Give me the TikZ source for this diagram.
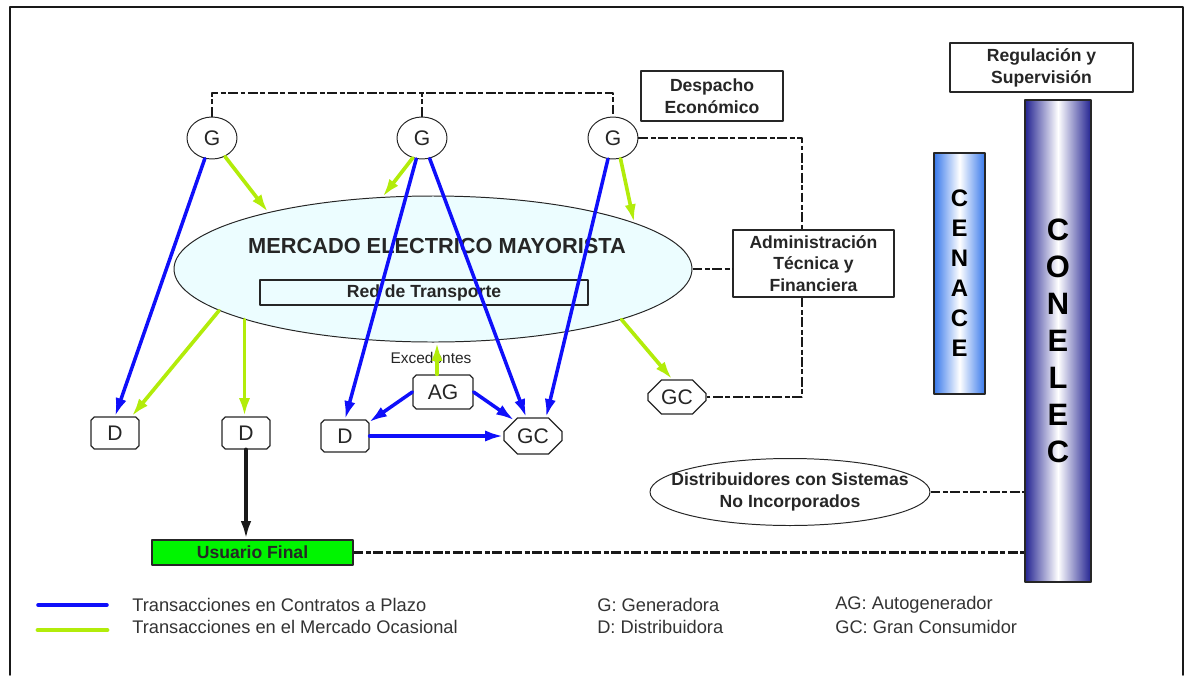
\documentclass[tikz,border=0pt]{standalone}
\usepackage{fontspec}
\setmainfont{Liberation Sans}
\usetikzlibrary{arrows.meta,shapes.geometric,shapes.misc}

\begin{document}
\begin{tikzpicture}[
    x=0.25mm, y=-0.25mm,
    line cap=round,
    line join=round,
    every node/.style={inner sep=0pt, text=black!85,
        font=\fontsize{12.5}{15.5}\selectfont\bfseries},
    caja/.style={draw=black!85, line width=0.9pt, align=center, fill=white},
    gen/.style={draw=black!85, line width=0.7pt, ellipse, fill=white,
        minimum width=12.5mm, minimum height=10.5mm,
        font=\fontsize{15}{17}\selectfont},
    agente/.style={draw=black!85, line width=0.9pt, fill=white,
        chamfered rectangle, chamfered rectangle xsep=0.4mm,
        chamfered rectangle ysep=0.4mm,
        minimum width=12mm, minimum height=8mm,
        font=\fontsize{15}{17}\selectfont},
    consumidor/.style={agente, chamfered rectangle xsep=2.2mm,
        chamfered rectangle ysep=1.5mm,
        minimum width=14.5mm, minimum height=9mm},
    barra/.style={draw=black!85, line width=0.9pt, align=center, text=black,
        font=\fontsize{17}{21.3}\selectfont\bfseries},
    contrato/.style={contblue, line width=2.5pt, -{Latex[length=13pt,width=8pt]}},
    ocasional/.style={spotgreen, line width=2.6pt, -{Latex[length=13pt,width=8pt]}},
    enlace/.style={black!90, line width=1.8pt, line cap=butt,
        dash pattern=on 7pt off 1.8pt on 3.5pt off 1.8pt},
    leyenda/.style={anchor=west, font=\fontsize{13}{15}\selectfont, text=black!80}
]

\definecolor{contblue}{RGB}{15,15,250}
\definecolor{spotgreen}{RGB}{178,236,10}
\definecolor{memfill}{RGB}{236,253,255}
\definecolor{ufgreen}{RGB}{0,245,0}
\definecolor{cenblue}{RGB}{55,120,235}
\definecolor{conblue}{RGB}{35,35,145}

\useasboundingbox (0,0) rectangle (1192,675);
\draw[line width=1.2pt, black!90] (10,675) -- (10,7) -- (1183,7) -- (1183,675);

% -----------------------------
% Generators and operators
% -----------------------------
\node[gen] (g1) at (212,138) {G};
\node[gen] (g2) at (422,138) {G};
\node[gen] (g3) at (613,138) {G};

\node[caja, minimum width=35.5mm, minimum height=12.5mm] (desp) at (712,96)
{Despacho\\Económico};
\node[caja, minimum width=40.25mm, minimum height=16.75mm] (adm) at (813.5,263.5)
{Administración\\Técnica y\\Financiera};
\node[caja, minimum width=45.75mm, minimum height=12.25mm] (reg) at (1041.5,67.5)
{Regulación y\\Supervisión};

\node[barra, minimum width=12.75mm, minimum height=60.25mm,
    left color=cenblue, right color=cenblue, middle color=white] (cenace)
    at (959.5,273.5) {C\\E\\N\\A\\C\\E};
\node[barra, minimum width=16.5mm, minimum height=120.5mm,
    left color=conblue, right color=conblue, middle color=white,
    font=\fontsize{22}{26.3}\selectfont\bfseries] (conelec)
    at (1058,341) {C\\O\\N\\E\\L\\E\\C};

% -----------------------------
% Wholesale market
% -----------------------------
\node[draw=black!85, line width=0.7pt, ellipse, fill=memfill,
    minimum width=129.5mm, minimum height=36.5mm] (mem) at (433,269) {};
\node[font=\fontsize{15.5}{18}\selectfont\bfseries] (mtitle) at (437,246)
{MERCADO ELECTRICO MAYORISTA};
\node[caja, fill=none, minimum width=82mm, minimum height=6.25mm] (red)
    at (424,292.5) {Red de Transporte};

% -----------------------------
% Agents
% -----------------------------
\node[agente] (d1) at (115,433) {D};
\node[agente] (d2) at (246,433) {D};
\node[agente] (d3) at (345,436) {D};
\node[agente, minimum width=15mm, minimum height=8.5mm] (ag) at (443,392) {AG};
\node[consumidor] (gc1) at (533,436) {GC};
\node[consumidor, minimum height=8.5mm] (gc2) at (677,397) {GC};
\node[font=\fontsize{11}{13}\selectfont] (exc) at (431,358) {Excedentes};

\node[caja, fill=ufgreen, minimum width=50.25mm, minimum height=6.25mm] (uf)
    at (252.5,552.5) {Usuario Final};
\node[draw=black!85, line width=0.7pt, ellipse,
    minimum width=70mm, minimum height=16.75mm] (dsni) at (790,492) {};
\node[align=center] (dsnitxt) at (dsni)
{Distribuidores con Sistemas\\No Incorporados};

% -----------------------------
% Dashed links
% -----------------------------
\coordinate (bus) at (421,93);
\draw[enlace] (g1.north) |- (bus) -| (g3.north);
\draw[enlace] (g2.north) -- (g2.north |- bus);
\draw[enlace] (g3.east) -| ([xshift=-2.9mm]adm.north);
\draw[enlace] ([xshift=-2.9mm]adm.south) |- (gc2.east);
\draw[enlace] (mem.east) -- (mem.east -| adm.west);
\draw[enlace] (dsni.east) -- (dsni.east -| conelec.west);
\draw[enlace] (uf.east) -- (uf.east -| conelec.west);

% -----------------------------
% Contracts (blue) and spot market (green)
% -----------------------------
\draw[contrato] (g1) -- (d1.north);
\draw[contrato] (g2) -- (d3.north);
\draw[contrato] (g2) -- (gc1.110);
\draw[contrato] (g3) -- (gc1.55);
\draw[contrato] (ag.west) -- (d3.30);
\draw[contrato] (ag.east) -- (gc1.140);
\draw[contrato] (d3.east) -- (gc1.west);

\draw[ocasional] (g1.-55) -- (mem.161);
\draw[ocasional] (g2.-115) -- (mem.125);
\draw[ocasional] (g3.-70) -- (mem.13);
\draw[ocasional] (mem.191) -- (d1.45);
\draw[ocasional] (mem.195) -- (mem.195 |- d2.north);
\draw[ocasional] (mem.-15) -- (gc2.105);
\draw[ocasional] ([xshift=-1.5mm]ag.north) -- ([xshift=-1.5mm]ag.north |- mem.south);

\draw[black!90, line width=3pt, -{Latex[length=13pt,width=7.5pt]}]
(d2.south) -- (d2.south |- uf.north);

% -----------------------------
% Legend
% -----------------------------
\draw[contblue, line width=2.5pt] (38,605) -- (107,605);
\draw[spotgreen, line width=3.5pt] (38,630) -- (107,630);
\node[leyenda] (ley1) at (132,605) {Transacciones en Contratos a Plazo};
\node[leyenda] (ley2) at (132,627) {Transacciones en el Mercado Ocasional};
\node[leyenda] (ley3) at (597,605) {G: Generadora};
\node[leyenda] (ley4) at (597,627) {D: Distribuidora};
\node[leyenda] (ley5) at (835,605) {AG: Autogenerador};
\node[leyenda] (ley6) at (835,627) {GC: Gran Consumidor};

\end{tikzpicture}
\end{document}
